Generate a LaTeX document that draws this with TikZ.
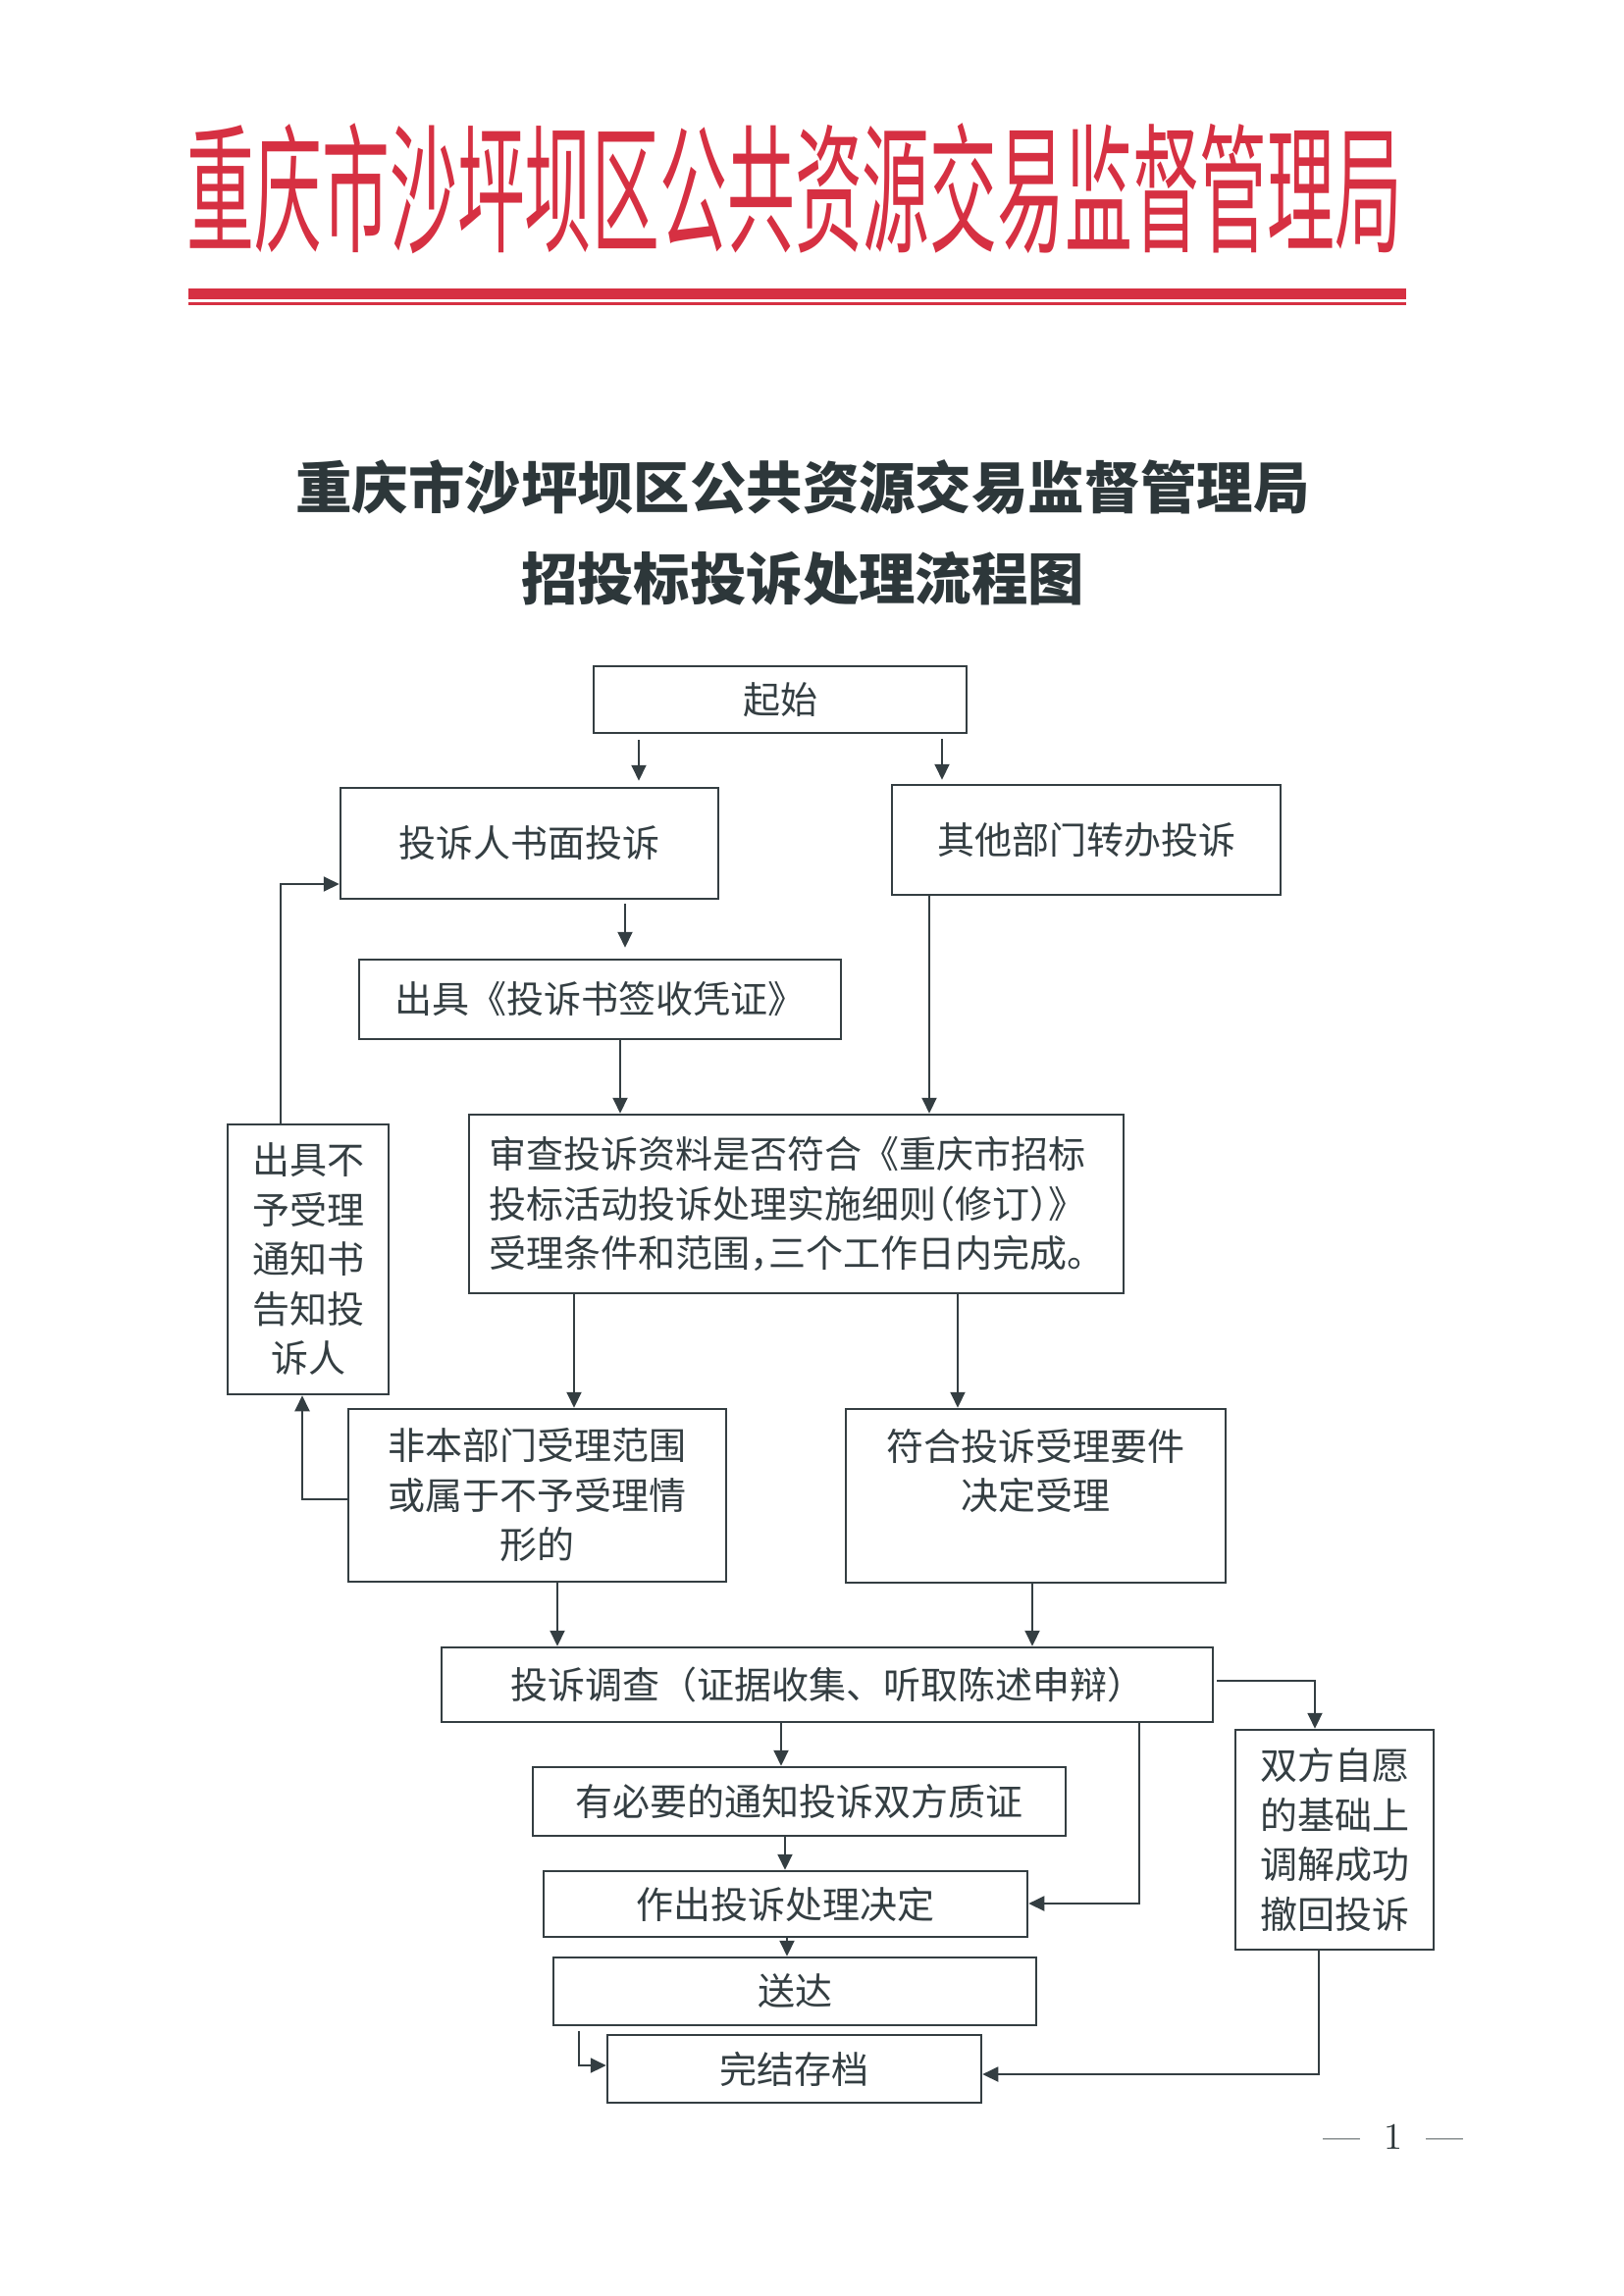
\documentclass[tikz,border=0pt]{standalone}
\usepackage{graphicx}
\usepackage{fontspec}
\newfontfamily\cjk{Noto Sans CJK SC}
\newfontfamily\cjkh[RawFeature=+halt]{Noto Sans CJK SC}
\usetikzlibrary{arrows.meta}
\definecolor{ink}{RGB}{52,62,66}
\definecolor{redhd}{RGB}{214,48,66}
\definecolor{ttl}{RGB}{45,55,58}
\begin{document}
\begin{tikzpicture}[x=0.1mm,y=-0.1mm,
  box/.style={draw=ink, line width=0.25mm, inner sep=0pt, text=ink, align=center,
    font=\cjk\fontsize{3.8mm}{5.05mm}\selectfont},
  conn/.style={draw=ink, line width=0.2mm},
  arr/.style={conn, -{Triangle[length=1.6mm,width=1.5mm]}},
  heading/.style={font=\cjk\bfseries\fontsize{5.74mm}{7mm}\selectfont, text=ttl, inner sep=0pt}]
\useasboundingbox[fill=white] (0,0) rectangle (1654,2340);

% red letterhead
\node[font=\cjk\fontsize{6.88mm}{8mm}\selectfont, text=redhd, inner sep=0pt] (head) at (810,192)
  {\scalebox{1}[2.07]{重庆市沙坪坝区公共资源交易监督管理局}};
\fill[redhd] (192,294.5) rectangle (1433,305.5);
\fill[redhd] (192,307.8) rectangle (1433,311.2);

% titles
\node[heading] (t1) at (818,497) {重庆市沙坪坝区公共资源交易监督管理局};
\node[heading] (t2) at (818,590) {招投标投诉处理流程图};

% boxes
\node[box, minimum width=38mm, minimum height=6.8mm] (start) at (795,713) {起始};
\node[box, minimum width=38.5mm, minimum height=11.3mm] (wr) at (539.5,859.5) {投诉人书面投诉};
\node[box, minimum width=39.6mm, minimum height=11.2mm] (other) at (1107,856) {其他部门转办投诉};
\node[box, minimum width=49.1mm, minimum height=8.1mm] (rcpt) at (611.5,1018.5) {出具《投诉书签收凭证》};
\node[box, align=left, minimum width=66.7mm, minimum height=18.2mm] (review) at (811.5,1227)
  {审查投诉资料是否符合《重庆市招标\\投标活动投诉处理实施细则{\cjkh（}修订{\cjkh）}》\\受理条件和范围{\cjkh，}三个工作日内完成。};
\node[box, minimum width=16.4mm, minimum height=27.5mm] (notice) at (314,1283.5)
  {出具不\\予受理\\通知书\\告知投\\诉人};
\node[box, minimum width=38.5mm, minimum height=17.6mm] (reject) at (547.5,1524)
  {非本部门受理范围\\或属于不予受理情\\形的};
\node[box, minimum width=38.7mm, minimum height=17.7mm] (accept) at (1055.5,1524.5)
  {符合投诉受理要件\\决定受理\\\phantom{形的}};
\node[box, minimum width=78.6mm, minimum height=7.6mm] (invest) at (843,1717)
  {投诉调查（证据收集、听取陈述申辩）};
\node[box, minimum width=54.3mm, minimum height=7.0mm] (confront) at (814.5,1836)
  {有必要的通知投诉双方质证};
\node[box, minimum width=49.3mm, minimum height=6.7mm] (decide) at (800.5,1940.5)
  {作出投诉处理决定};
\node[box, minimum width=49.2mm, minimum height=6.9mm] (deliver) at (810,2029.5) {送达};
\node[box, minimum width=38.1mm, minimum height=6.9mm] (archive) at (809.5,2108.5) {完结存档};
\node[box, minimum width=20.2mm, minimum height=22.4mm] (mediate) at (1360,1875)
  {双方自愿\\的基础上\\调解成功\\撤回投诉};

% page number
\node[font=\fontsize{3.8mm}{4.5mm}\selectfont, text=ttl, inner sep=0pt] (pg) at (1420,2178)
  {—\hspace{2.4mm}1\hspace{2.4mm}—};

% connector columns
\coordinate (ca) at (651,0);
\coordinate (cb) at (960,0);
\coordinate (cc) at (637,0);
\coordinate (cd) at (632,0);
\coordinate (ce) at (947,0);
\coordinate (cf) at (585,0);
\coordinate (cg) at (976,0);
\coordinate (cj) at (568,0);
\coordinate (ck) at (1052,0);
\coordinate (cl) at (796,0);
\coordinate (cm) at (800,0);
\coordinate (cp) at (802,0);
\coordinate (h) at (308,1528);
\coordinate (i) at (286,901);
\coordinate (n) at (1161,1940);
\coordinate (o) at (1340,1713);
\coordinate (q) at (590,2105);
\coordinate (r) at (1344,2114);

\draw[arr, shorten <=0.6mm, shorten >=0.6mm] (start.south -| ca) -- (wr.north -| ca);
\draw[arr, shorten <=0.5mm, shorten >=0.4mm] (start.south -| cb) -- (other.north -| cb);
\draw[arr, shorten <=0.4mm, shorten >=1.1mm] (wr.south -| cc) -- (rcpt.north -| cc);
\draw[arr] (rcpt.south -| cd) -- (review.north -| cd);
\draw[arr] (other.south -| ce) -- (review.north -| ce);
\draw[arr] (review.south -| cf) -- (reject.north -| cf);
\draw[arr] (review.south -| cg) -- (accept.north -| cg);
\draw[arr] (reject.west |- h) -- (h) -- (notice.south -| h);
\draw[arr] (notice.north -| i) -- (i) -- (wr.west |- i);
\draw[arr] (reject.south -| cj) -- (invest.north -| cj);
\draw[arr] (accept.south -| ck) -- (invest.north -| ck);
\draw[arr] (invest.south -| cl) -- (confront.north -| cl);
\draw[arr] (confront.south -| cm) -- (decide.north -| cm);
\draw[arr] (invest.south -| n) -- (n) -- (decide.east |- n);
\draw[arr, shorten <=0.3mm] (invest.east |- o) -- (o) -- (mediate.north -| o);
\draw[arr] (decide.south -| cp) -- (deliver.north -| cp);
\draw[arr, shorten <=0.5mm] (deliver.south -| q) -- (q) -- (archive.west |- q);
\draw[arr] (mediate.south -| r) -- (r) -- (archive.east |- r);
\end{tikzpicture}
\end{document}
